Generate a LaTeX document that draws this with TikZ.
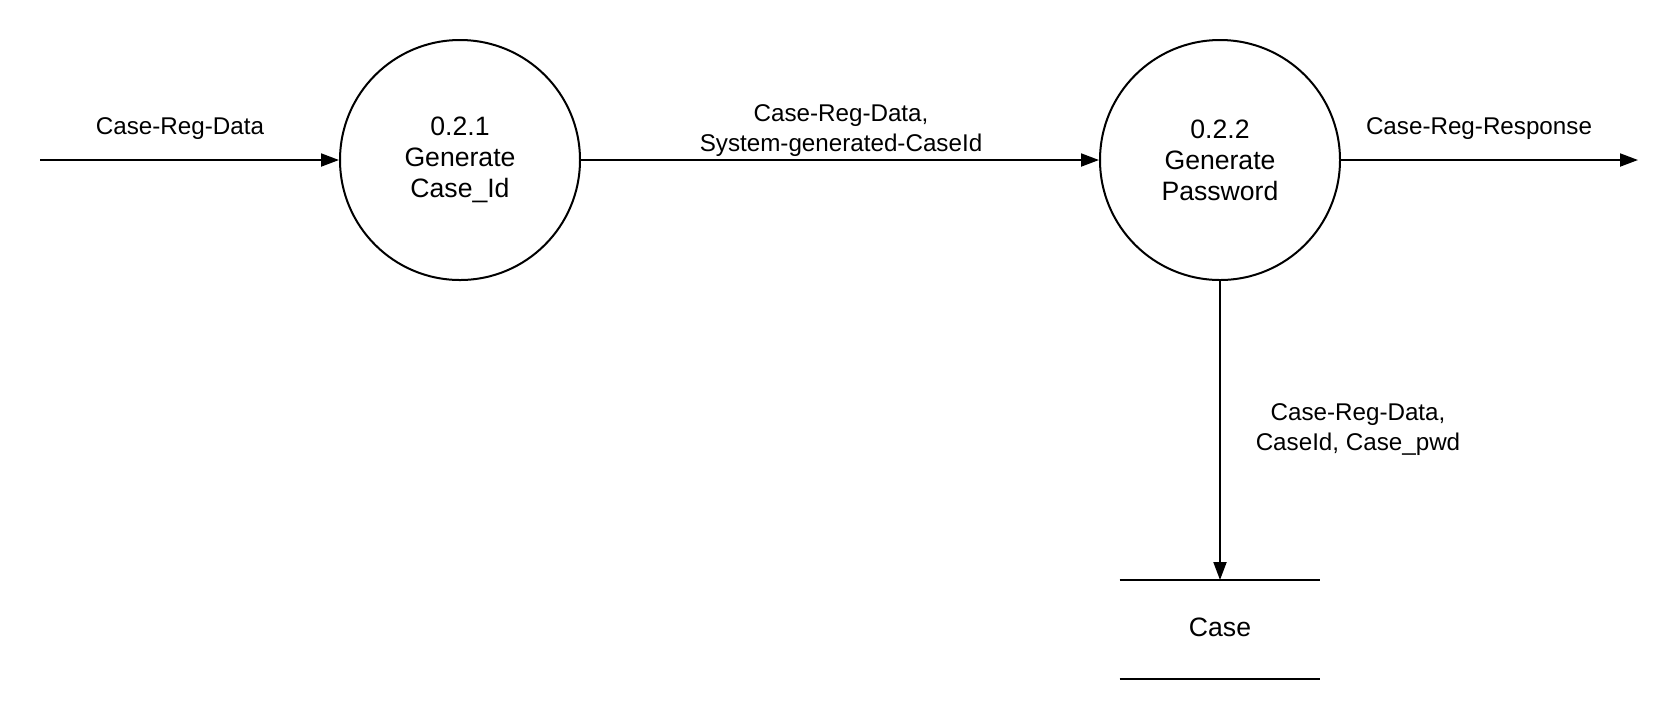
\documentclass[tikz,border=0pt]{standalone}
\usepackage{fontspec}
\setmainfont{Liberation Sans}
\usetikzlibrary{arrows.meta}
\begin{document}
\begin{tikzpicture}[x=0.5pt,y=-0.5pt,
  every node/.style={font=\fontsize{12.1pt}{15pt}\selectfont, inner sep=0pt},
  process/.style={draw, line width=1pt, circle, minimum size=120pt, align=center,
    font=\fontsize{13.3pt}{15.5pt}\selectfont},
  flow/.style={line width=1pt, -{Triangle[length=9pt,width=6.5pt]}},
  lbl/.style={align=center},
  storeline/.style={line width=1pt}]
\useasboundingbox (0,0) rectangle (1677,720);
\node[process] (p1) at (460,160) {0.2.1\\Generate\\Case\_Id};
\node[process] (p2) at (1220,160) {0.2.2\\Generate\\Password};
\node[minimum width=100pt, minimum height=49.5pt, font=\fontsize{13.3pt}{15.5pt}\selectfont] (store) at (1220,627) {Case};
\draw[storeline] ([yshift=-1.25pt]store.north west) -- ([yshift=-1.25pt]store.north east);
\draw[storeline] ([yshift=-1.25pt]store.south west) -- ([yshift=-1.25pt]store.south east);
\coordinate (src) at (40,160);
\coordinate (snk) at (1638,160);
\coordinate (stin) at (1220,580);
\draw[flow] (src) -- (p1.west);
\draw[flow] (p1.east) -- (p2.west);
\draw[flow] (p2.east) -- (snk);
\draw[flow] (p2.south) -- (stin);
\node[lbl] (l1) at (180,129) {Case-Reg-Data};
\node[lbl] (l2) at (841,131) {Case-Reg-Data,\\System-generated-CaseId};
\node[lbl] (l3) at (1479,129) {Case-Reg-Response};
\node[lbl] (l4) at (1358,430) {Case-Reg-Data,\\CaseId, Case\_pwd};
\end{tikzpicture}
\end{document}
